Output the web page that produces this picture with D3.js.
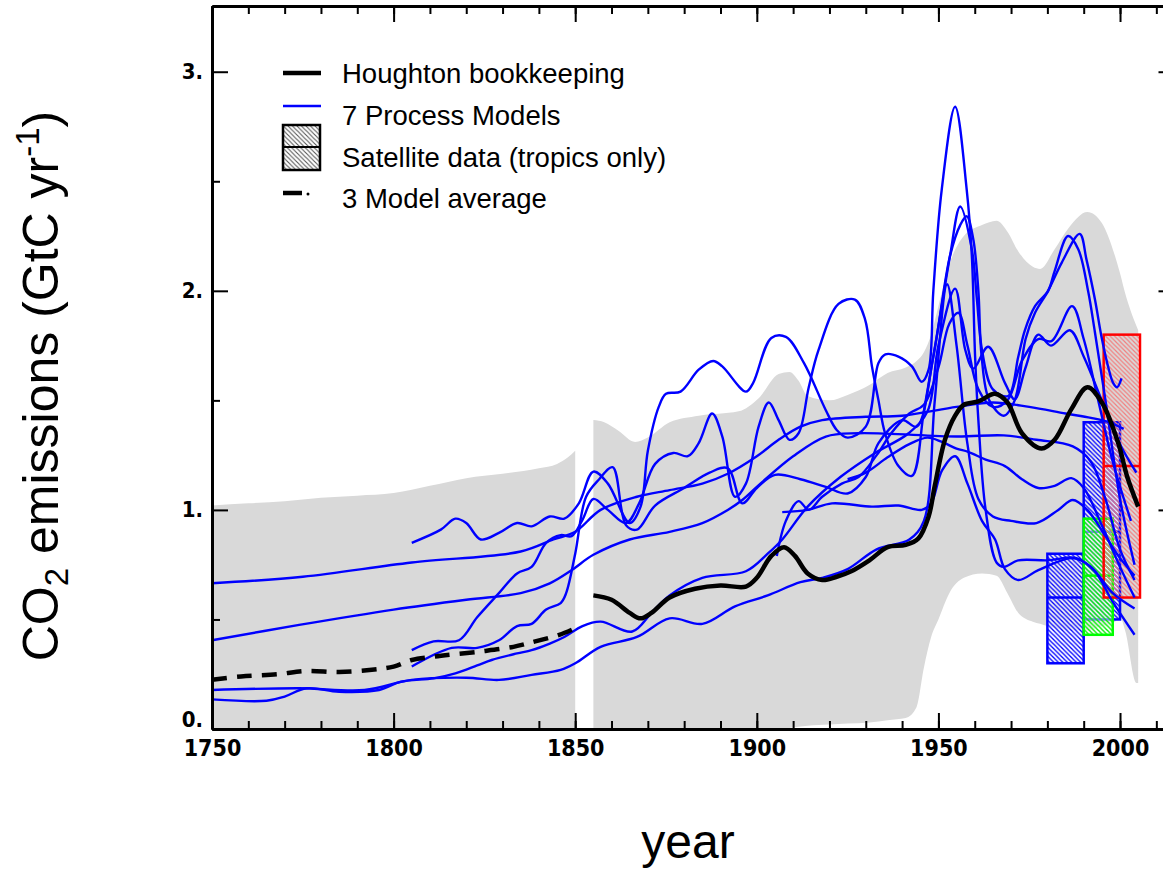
<!DOCTYPE html>
<html>
<head>
<meta charset="utf-8">
<script src="https://cdn.jsdelivr.net/npm/d3@7"></script>
<style>
body { margin: 0; background: #fff; }
svg { display: block; }
</style>
</head>
<body>
<svg id="chart" width="1163" height="871"></svg>
<script>
// ---- data ----
var bandYearsL = [1750,1760,1770,1780,1790,1800,1810,1820,1830,1840,1845,1848,1850];
var bandHighL  = [1.02,1.03,1.04,1.055,1.065,1.077,1.11,1.145,1.165,1.19,1.21,1.24,1.27];

var bandYearsR = [1855,1858,1862,1866.5,1870,1876,1884,1895,1900.5,1906,1909,1911.5,1914,1920,1925,1931,1936,1941,1944,1946,1948,1950,1953,1957,1962,1966,1969,1972,1976,1978,1982,1986,1991,1995,1998.6,2000,2001.4,2004.5,2005];
var bandHighR  = [1.41,1.40,1.36,1.31,1.33,1.40,1.43,1.45,1.51,1.62,1.63,1.59,1.52,1.50,1.525,1.57,1.625,1.65,1.68,1.72,1.80,1.93,2.12,2.25,2.30,2.32,2.27,2.18,2.11,2.10,2.19,2.29,2.36,2.31,2.16,2.08,1.99,1.84,1.82];
var bandLowR   = [0,0,0,0,0,0,0,0,0,0,.005,.01,.015,.02,.025,.03,.04,.05,.10,.28,.42,.50,.62,.69,.71,.70,.62,.53,.49,.48,.46,.45,.45,.47,.49,.51,.45,.21,.21];

var houghtonYears = [1855,1860,1865,1868,1871,1876,1883,1890,1897,1900,1904,1907.5,1910.5,1914,1918,1922,1926,1931,1936,1941,1944.5,1947.3,1949,1951.8,1954.6,1957,1961,1965.6,1969,1973,1978.4,1982,1986.6,1991,1995,1999.5,2002,2005];
var houghtonVals  = [0.61,0.59,0.53,0.505,0.53,0.60,0.64,0.655,0.65,0.69,0.79,0.83,0.79,0.71,0.68,0.695,0.72,0.77,0.83,0.84,0.87,0.97,1.11,1.32,1.43,1.48,1.495,1.53,1.49,1.35,1.28,1.32,1.46,1.56,1.49,1.305,1.15,1.015];

var avgYears = [1750,1758,1768,1776,1785,1794,1800,1805,1811,1816,1824.5,1833,1839,1845.6,1850];
var avgVals  = [0.225,0.24,0.25,0.265,0.26,0.27,0.285,0.315,0.33,0.34,0.355,0.375,0.40,0.43,0.46];

// process model runs, [year, GtC/yr]
var pmA = [[1750,.665],[1775,.695],[1805,.76],[1835,.81],[1844,.865],[1850,.90],[1857,1.0],[1867,1.06],[1876,1.09],[1885,1.12],[1892,1.165],[1900,1.245],[1906,1.32],[1912,1.38],[1918,1.41],[1930,1.425],[1940,1.43],[1955,1.47],[1965,1.49],[1975,1.47],[1985,1.44],[1992,1.42],[1997,1.40],[2001,1.37]];
var pmB = [[1750,.405],[1774,.475],[1800,.545],[1820,.59],[1835,.62],[1843,.665],[1849,.725],[1855,.795],[1865,.865],[1876,.90],[1885,.94],[1892,1.0],[1896,1.045],[1901,1.12],[1910,1.245],[1919,1.335],[1928,1.35],[1955,1.335],[1968,1.34],[1977,1.32],[1987,1.29],[1992,1.22],[1996,1.05],[2000,.82],[2004,.68]];
var pmC = [[1750,.178],[1774,.186],[1792,.178],[1805,.224],[1820,.234],[1829,.224],[1838,.247],[1846,.27],[1850,.30],[1857,.375],[1867,.42],[1876,.505],[1885,.48],[1894,.56],[1903,.61],[1912,.67],[1918,.69],[1925,.73],[1933,.82],[1942,.865],[1946,.95],[1949,1.5],[1952.4,2.03],[1955,1.75],[1958,1.3],[1961,1.05],[1965,.97],[1970,.95],[1977,.94],[1983,1.0],[1987,1.045],[1991,1.0],[1996,.88],[2000,.78],[2004,.70]];
var pmD = [[1750,.135],[1765,.129],[1770,.148],[1776,.186],[1785,.17],[1796,.178],[1802,.216],[1811,.231],[1817,.254],[1823,.29],[1827,.315],[1834,.345],[1838,.36],[1843,.39],[1847,.42],[1852,.47],[1857,.49],[1865.7,.445],[1871,.53],[1876,.61],[1885,.69],[1897,.72],[1903,.80],[1907,.865],[1914,1.015],[1923,1.15],[1932.6,1.26],[1941.8,1.35],[1947,1.45],[1950,1.75],[1954.6,2.01],[1957.4,1.73],[1959.6,1.645],[1963.7,1.745],[1968.3,1.58],[1971,1.505],[1974,1.65],[1977.5,1.80],[1981,1.75],[1986.2,1.82],[1990,1.7],[1995,1.5],[2000,1.3],[2004.5,1.17]];
var pmE = [[1805,.85],[1813,.91],[1817,.96],[1820,.94],[1824,.865],[1829,.895],[1834,.94],[1838,.925],[1843,.97],[1847,.96],[1851,1.03],[1855,1.175],[1859,1.12],[1865,.94],[1868,1.015],[1870,1.27],[1873,1.47],[1875,1.53],[1879,1.54],[1884,1.64],[1888,1.68],[1890.5,1.655],[1897,1.54],[1899,1.58],[1904,1.785],[1908,1.79],[1913,1.67],[1919,1.455],[1922,1.365],[1925,1.33],[1930,1.38],[1933.5,1.67],[1935.4,1.71],[1939,1.70],[1942.7,1.655],[1945.4,1.585],[1947.3,1.64],[1948.6,2.0],[1950.9,2.46],[1954.6,2.84],[1957.8,2.46],[1959.2,2.16],[1960.1,1.70],[1961,1.41],[1963,1.0],[1966,.76],[1968,.74],[1972,.77],[1980,.77],[1988,.78],[1993,.72],[1998,.58],[2004,.43]];
var pmF = [[1805,.36],[1811,.40],[1818,.405],[1823,.51],[1829,.62],[1834,.71],[1838,.74],[1842,.85],[1846,.885],[1849,.88],[1852,.955],[1855,1.05],[1859,1.0],[1864,.94],[1867.6,1.03],[1872,1.21],[1877,1.26],[1881,1.245],[1884,1.305],[1887.7,1.44],[1890.5,1.335],[1894,1.06],[1897,1.12],[1900.5,1.38],[1903.3,1.49],[1906,1.41],[1909,1.32],[1911.5,1.35],[1914.3,1.56],[1917,1.73],[1922.5,1.94],[1927,1.96],[1929.8,1.87],[1931.7,1.655],[1933.5,1.50],[1935.3,1.35],[1939,1.20],[1942.7,1.155],[1946,1.45],[1948.6,1.70],[1950.9,1.93],[1953.2,2.16],[1956,2.385],[1959.2,2.19],[1960.6,1.96],[1962,1.73],[1965,1.55],[1969.2,1.52],[1972,1.70],[1973.8,1.82],[1976.6,1.93],[1980.2,2.0],[1982,2.09],[1985.7,2.25],[1988.5,2.19],[1991.2,2.0],[1993.1,1.81],[1996,1.5],[2000,1.05],[2004,.75]];
var pmG = [[1805,.285],[1816,.37],[1823,.37],[1829,.405],[1834,.47],[1838,.48],[1842,.545],[1846,.575],[1847.5,.62],[1850,.80],[1853,1.06],[1856.6,1.14],[1860.3,1.195],[1864,.93],[1867,.91],[1872,1.02],[1880,1.10],[1887,1.17],[1892,1.19],[1896,1.03],[1900,1.10],[1905,1.16],[1912,1.14],[1919,1.105],[1925,1.075],[1930,1.15],[1933.5,1.305],[1940,1.41],[1944,1.38],[1948.6,1.70],[1953.2,2.16],[1956,2.30],[1957.8,2.34],[1959.6,2.235],[1961,2.0],[1961.9,1.70],[1964,1.5],[1968,1.43],[1971,1.50],[1974,1.78],[1976.6,1.90],[1980.2,2.0],[1984,2.13],[1988.9,2.26],[1990.8,2.14],[1993.1,1.96],[1994.9,1.79],[1996.7,1.655],[1998.1,1.58],[1999.2,1.56],[2000.4,1.60]];
var pmH = [[1907,.99],[1914,1.0],[1920.7,1.03],[1931.7,1.015],[1939,1.02],[1945.4,1.0],[1948,1.03],[1951,1.18],[1954.6,1.245],[1958,1.12],[1962,.95],[1965.6,.865],[1968.3,.73],[1972,.68],[1977.5,.725],[1987,.78],[1992,.74],[1998,.62],[2004,.55]];
var pmI = [[1925,1.14],[1930,1.17],[1936,1.24],[1942,1.30],[1947,1.33],[1951,1.31],[1955,1.28],[1958.2,1.265],[1963,1.23],[1968.3,1.20],[1973,1.14],[1977.5,1.10],[1982,1.11],[1986.6,1.145],[1990,1.10],[1995,.93],[2000,.74],[2004,.60]];
var pmJ = [[1905.5,.79],[1908,.95],[1911.5,1.04],[1914.3,1.0],[1918,1.06],[1923.4,1.12],[1928,1.15],[1933,1.25],[1937,1.35],[1942,1.44],[1946,1.48],[1950,1.65],[1953,1.85],[1955.5,1.9],[1958,1.75],[1961,1.55],[1965,1.47],[1969,1.5],[1973,1.68],[1977.5,1.78],[1981.1,1.77],[1986.8,1.93],[1990,1.78],[1994,1.5],[1998,1.22],[2003,.95]];
var processModels = [pmA, pmB, pmC, pmD, pmE, pmF, pmG, pmH, pmI, pmJ];

// satellite boxes
var satStart = [1980, 1990, 1990, 1995.5];
var satEnd   = [1990, 2000, 1998, 2005.5];
var satLow   = [0.30, 0.50, 0.43, 0.60];
var satMid   = [0.60, 0.90, 0.70, 1.20];
var satHigh  = [0.80, 1.40, 0.96, 1.80];
var satColor = ["#0000ff", "#0000ff", "#00ff00", "#ff0000"];
var satHatch = ["hatchBlue", "hatchBlue", "hatchGreen", "hatchRed"];

var xMajor = [1750, 1800, 1850, 1900, 1950, 2000];
var yMajor = [0, 1, 2, 3];

// ---- chart ----
var svg = d3.select("#chart");

var x = d3.scaleLinear().domain([1750, 2015]).range([212, 1174.5]);
var y = d3.scaleLinear().domain([0, 3.3]).range([729, 6]);

var defs = svg.append("defs");
function hatch(id, color, width, bg) {
  var p = defs.append("pattern").attr("id", id)
    .attr("patternUnits", "userSpaceOnUse").attr("width", 4.5).attr("height", 4.5);
  if (bg) p.append("rect").attr("width", 4.5).attr("height", 4.5).attr("fill", bg);
  p.append("path").attr("d", "M0,0L4.5,4.5M-1,3.5L1,5.5M3.5,-1L5.5,1")
    .attr("stroke", color).attr("stroke-width", width);
}
hatch("hatchBlue", "#0000ff", 1.3, "rgba(255,255,255,0.6)");
hatch("hatchGreen", "#00ee00", 1.4, "rgba(255,255,255,0.5)");
hatch("hatchRed", "#f27d7d", 1.2, null);
hatch("hatchGray", "#555", 1.1, "#fff");

// gray range band, two pieces with a gap at 1850-1855
var area = d3.area().x(function(d){ return x(d[0]); })
  .y0(function(d){ return y(d[1]); }).y1(function(d){ return y(d[2]); })
  .curve(d3.curveMonotoneX);

var bandL = bandYearsL.map(function(yr, i){ return [yr, 0, bandHighL[i]]; });
var bandR = bandYearsR.map(function(yr, i){ return [yr, bandLowR[i], bandHighR[i]]; });
svg.append("path").attr("d", area(bandL)).attr("fill", "#d9d9d9");
svg.append("path").attr("d", area(bandR)).attr("fill", "#d9d9d9");

// satellite boxes
satStart.forEach(function(s, i){
  var g = svg.append("g");
  g.append("rect")
    .attr("x", x(s)).attr("y", y(satHigh[i]))
    .attr("width", x(satEnd[i]) - x(s)).attr("height", y(satLow[i]) - y(satHigh[i]))
    .attr("fill", "url(#" + satHatch[i] + ")")
    .attr("stroke", satColor[i]).attr("stroke-width", 2.5);
  g.append("line")
    .attr("x1", x(s)).attr("x2", x(satEnd[i]))
    .attr("y1", y(satMid[i])).attr("y2", y(satMid[i]))
    .attr("stroke", satColor[i]).attr("stroke-width", 2.5);
});

var line = d3.line().x(function(d){ return x(d[0]); }).y(function(d){ return y(d[1]); })
  .curve(d3.curveCatmullRom.alpha(0.5));

svg.append("g").selectAll("path").data(processModels).enter().append("path")
  .attr("d", line).attr("fill", "none")
  .attr("stroke", "#0000ff").attr("stroke-width", 2.4);

svg.append("path")
  .attr("d", line(houghtonYears.map(function(yr, i){ return [yr, houghtonVals[i]]; })))
  .attr("fill", "none").attr("stroke", "#000").attr("stroke-width", 4.5);

svg.append("path")
  .attr("d", line(avgYears.map(function(yr, i){ return [yr, avgVals[i]]; })))
  .attr("fill", "none").attr("stroke", "#000").attr("stroke-width", 4.5)
  .attr("stroke-dasharray", "15,10");

// ---- axes ----
function styleAxis(g) {
  g.select(".domain").attr("stroke-width", 3);
  g.selectAll(".tick line").attr("stroke-width", 2);
  g.selectAll(".tick text").attr("font-family", "'DejaVu Sans Condensed', 'DejaVu Sans', sans-serif")
    .attr("font-weight", "bold").attr("font-size", 23).attr("fill", "#000");
}
var minorYears = d3.range(1750, 2015, 10);

svg.append("g").attr("transform", "translate(0,729)")
  .call(d3.axisBottom(x).tickValues(minorYears).tickSizeInner(-8).tickSizeOuter(0).tickFormat(""))
  .call(styleAxis);
svg.append("g").attr("transform", "translate(0,729)")
  .call(d3.axisBottom(x).tickValues(xMajor).tickSizeInner(-16).tickSizeOuter(0).tickPadding(11).tickFormat(d3.format("d")))
  .call(styleAxis);

svg.append("g").attr("transform", "translate(0,6)")
  .call(d3.axisTop(x).tickValues(minorYears).tickSizeInner(-8).tickSizeOuter(0).tickFormat(""))
  .call(styleAxis);
svg.append("g").attr("transform", "translate(0,6)")
  .call(d3.axisTop(x).tickValues(xMajor).tickSizeInner(-16).tickSizeOuter(0).tickFormat(""))
  .call(styleAxis);

svg.append("g").attr("transform", "translate(212,0)")
  .call(d3.axisLeft(y).tickValues([0.5, 1.5, 2.5]).tickSizeInner(-8).tickSizeOuter(0).tickFormat(""))
  .call(styleAxis);
var yLab = svg.append("g").attr("transform", "translate(212,0)")
  .call(d3.axisLeft(y).tickValues(yMajor).tickSizeInner(-16).tickSizeOuter(0).tickPadding(9)
    .tickFormat(function(d){ return d + "."; }))
  .call(styleAxis);
yLab.selectAll(".tick text").attr("font-size", 22);
// "0." sits just above the 1750 label
yLab.selectAll(".tick text").filter(function(d){ return d === 0; }).attr("dy", "-0.1em");

svg.append("g").attr("transform", "translate(1174.5,0)")
  .call(d3.axisRight(y).tickValues([0.5, 1.5, 2.5]).tickSizeInner(-8).tickSizeOuter(0).tickFormat(""))
  .call(styleAxis);
svg.append("g").attr("transform", "translate(1174.5,0)")
  .call(d3.axisRight(y).tickValues(yMajor).tickSizeInner(-16).tickSizeOuter(0).tickFormat(""))
  .call(styleAxis);

// axis titles
var font = "'Liberation Sans', Arial, sans-serif";
var yt = svg.append("text").attr("transform", "translate(58,386) rotate(-90)")
  .attr("text-anchor", "middle").attr("font-family", font).attr("font-size", 50);
yt.append("tspan").text("CO");
yt.append("tspan").attr("font-size", 33).attr("dy", 10).text("2");
yt.append("tspan").attr("dy", -10).text(" emissions (GtC yr");
yt.append("tspan").attr("font-size", 33).attr("dy", -19).text("-1");
yt.append("tspan").attr("dy", 19).text(")");

svg.append("text").attr("x", 688).attr("y", 858).attr("text-anchor", "middle")
  .attr("font-family", font).attr("font-size", 48).text("year");

// ---- legend ----
var legendLabels = ["Houghton bookkeeping", "7 Process Models", "Satellite data (tropics only)", "3 Model average"];
var legendRowY = [73, 115, 157, 198];
var lg = svg.append("g");
legendLabels.forEach(function(t, i){
  lg.append("text").attr("x", 342).attr("y", legendRowY[i] + 10)
    .attr("font-family", font).attr("font-size", 27.5).text(t);
});
lg.append("line").attr("x1", 283).attr("x2", 321).attr("y1", 73).attr("y2", 73)
  .attr("stroke", "#000").attr("stroke-width", 4.5);
lg.append("line").attr("x1", 283).attr("x2", 321).attr("y1", 106).attr("y2", 106)
  .attr("stroke", "#0000ff").attr("stroke-width", 2.4);
lg.append("rect").attr("x", 283).attr("y", 125).attr("width", 37).attr("height", 45)
  .attr("fill", "url(#hatchGray)").attr("stroke", "#000").attr("stroke-width", 2.5);
lg.append("line").attr("x1", 283).attr("x2", 320).attr("y1", 147).attr("y2", 147)
  .attr("stroke", "#000").attr("stroke-width", 2);
lg.append("line").attr("x1", 283).attr("x2", 302).attr("y1", 193).attr("y2", 193)
  .attr("stroke", "#000").attr("stroke-width", 4.5);
lg.append("circle").attr("cx", 308).attr("cy", 194).attr("r", 1.5).attr("fill", "#000");
</script>
</body>
</html>
